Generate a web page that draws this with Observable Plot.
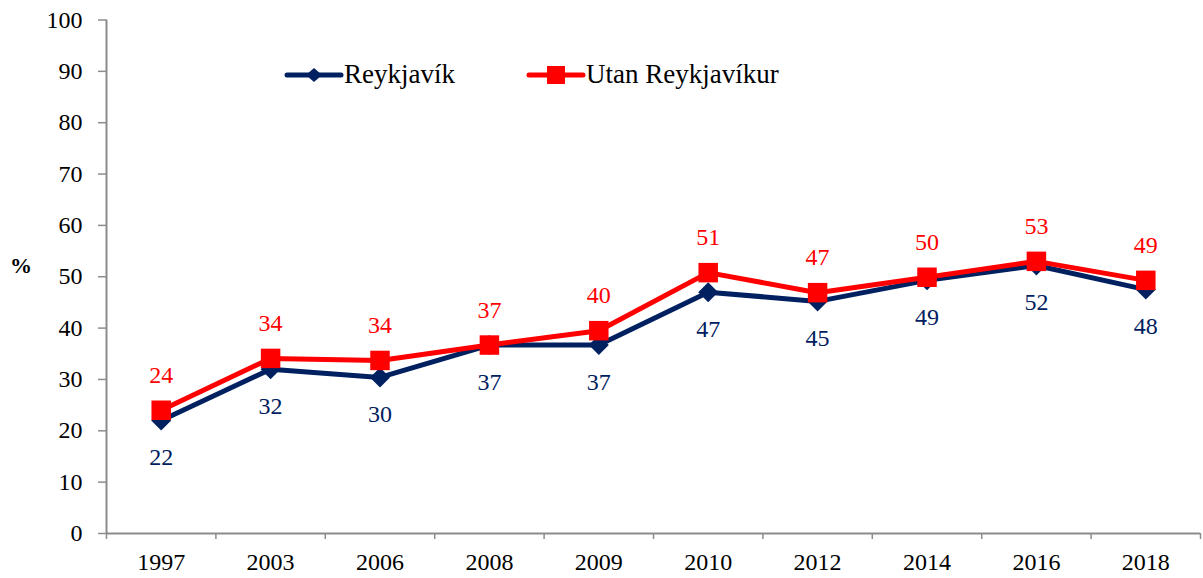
<!DOCTYPE html>
<html>
<head>
<meta charset="utf-8">
<script src="https://cdn.jsdelivr.net/npm/d3@7"></script>
<script src="https://cdn.jsdelivr.net/npm/@observablehq/plot@0.6"></script>
<style>
  html, body { margin: 0; padding: 0; background: white; }
  #wrap { position: relative; width: 1203px; height: 578px; font-family: "Liberation Serif", "Times New Roman", serif; }
  #legend { position: absolute; top: 59px; left: 284px; display: flex; align-items: center; font-size: 27px; color: #000; white-space: nowrap; }
  #legend .item { display: flex; align-items: center; }
  #legend svg { display: block; }
  #pct { position: absolute; left: 10px; top: 253px; font-size: 22px; font-weight: bold; }
</style>
</head>
<body>
<div id="wrap"></div>
<script>
const years = ["1997", "2003", "2006", "2008", "2009", "2010", "2012", "2014", "2016", "2018"];
const reykjavik = [22, 32, 30.4, 36.7, 36.7, 47, 45.2, 49.3, 52.2, 47.5];
const utan = [24, 34.1, 33.7, 36.7, 39.5, 50.8, 46.9, 49.9, 53, 49.3];
const reykjavikLabels = ["22", "32", "30", "37", "37", "47", "45", "49", "52", "48"];
const utanLabels = ["24", "34", "34", "37", "40", "51", "47", "50", "53", "49"];
const yTicks = [0, 10, 20, 30, 40, 50, 60, 70, 80, 90, 100];
const seriesNames = ["Reykjavík", "Utan Reykjavíkur"];

const blue = "#002060";
const red = "#FF0000";
const axisGray = "#8c8c8c";

const data = years.map((y, i) => ({
  i, year: y,
  reyk: reykjavik[i], utan: utan[i],
  reykLabel: reykjavikLabels[i], utanLabel: utanLabels[i]
}));
const idx = d3.range(years.length);
const bounds = d3.range(years.length + 1).map(i => i - 0.5);

const chart = Plot.plot({
  width: 1203,
  height: 578,
  marginLeft: 106,
  marginRight: 3,
  marginTop: 19.5,
  marginBottom: 45,
  x: { domain: [-0.5, years.length - 0.5], axis: null, label: null },
  y: { domain: [0, 100], axis: null, label: null },
  style: { fontFamily: "'Liberation Serif', 'Times New Roman', serif", fontSize: "24px", background: "white", color: "black" },
  marks: [
    Plot.axisY({ ticks: yTicks, tickSize: 8, tickPadding: 16, stroke: axisGray, strokeWidth: 1.5, fill: "black", fontSize: 24, label: null }),
    Plot.axisX({ ticks: bounds, tickFormat: () => "", tickSize: 6, stroke: axisGray, strokeWidth: 1.5, label: null }),
    Plot.axisX({ ticks: idx, tickFormat: i => years[i], tickSize: 0, tickPadding: 19, fill: "black", fontSize: 24, label: null }),
    Plot.ruleX([-0.5], { stroke: axisGray, strokeWidth: 2 }),
    Plot.ruleY([0], { stroke: axisGray, strokeWidth: 2 }),
    Plot.line(data, { x: "i", y: "reyk", stroke: blue, strokeWidth: 5, strokeLinejoin: "round" }),
    Plot.dot(data, { x: "i", y: "reyk", symbol: "diamond2", r: 9, fill: blue, stroke: "none" }),
    Plot.line(data, { x: "i", y: "utan", stroke: red, strokeWidth: 5, strokeLinejoin: "round" }),
    Plot.dot(data, { x: "i", y: "utan", symbol: "square", r: 11, fill: red, stroke: "none" }),
    Plot.text(data, { x: "i", y: "reyk", text: "reykLabel", dy: 37, fill: blue, fontSize: 24 }),
    Plot.text(data, { x: "i", y: "utan", text: "utanLabel", dy: -35, fill: red, fontSize: 24 })
  ]
});

const wrap = document.getElementById("wrap");
wrap.appendChild(chart);

const pct = document.createElement("div");
pct.id = "pct";
pct.textContent = "%";
wrap.appendChild(pct);

const legend = document.createElement("div");
legend.id = "legend";
legend.innerHTML = `
  <div class="item">
    <svg width="60" height="30"><line x1="3" y1="15" x2="57" y2="15" stroke="${blue}" stroke-width="5" stroke-linecap="round"/>
      <path d="M30,8 L38,15 L30,22 L22,15 Z" fill="${blue}"/></svg>
    <span>${seriesNames[0]}</span>
  </div>
  <div class="item" style="margin-left:71px">
    <svg width="60" height="30"><line x1="3" y1="15" x2="57" y2="15" stroke="${red}" stroke-width="5" stroke-linecap="round"/>
      <rect x="21" y="6" width="18" height="18" fill="${red}"/></svg>
    <span>${seriesNames[1]}</span>
  </div>`;
wrap.appendChild(legend);
</script>
</body>
</html>
